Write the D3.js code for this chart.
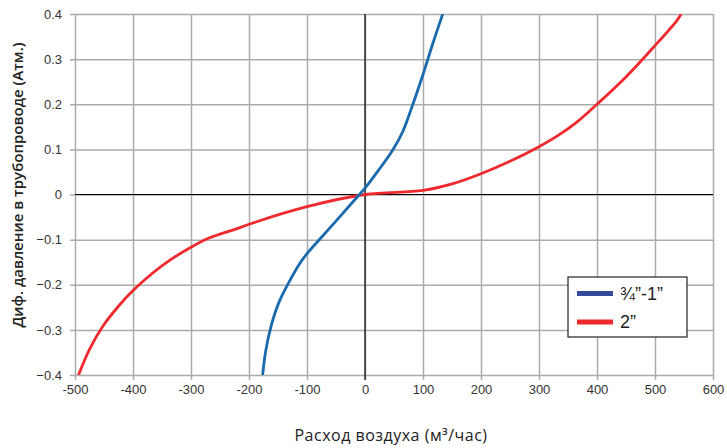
<!DOCTYPE html>
<html>
<head>
<meta charset="utf-8">
<script src="https://cdn.jsdelivr.net/npm/d3@7"></script>
<style>
  html, body { margin: 0; padding: 0; background: #fff; }
  svg { display: block; font-family: "Liberation Sans", Arial, sans-serif; }
</style>
</head>
<body>
<div id="chart"></div>
<script>
// Données
const xTicks = [-500, -400, -300, -200, -100, 0, 100, 200, 300, 400, 500, 600];
const yTicks = [-0.4, -0.3, -0.2, -0.1, 0, 0.1, 0.2, 0.3, 0.4];

const seriesNames = ['¾”-1”', '2”'];

const blueX = [-176.5, -171, -162, -148, -130.5, -113, -100, -73, -44, -20, 0, 24.6, 47.6, 65, 82, 100, 116.5, 134];
const blueY = [-0.4, -0.345, -0.292, -0.238, -0.193, -0.154, -0.131, -0.092, -0.05, -0.015, 0.014, 0.056, 0.098, 0.139, 0.198, 0.266, 0.333, 0.4];

const redX = [-494, -475, -452, -424, -400, -366, -337, -300, -268, -216.7, -200, -100, 0, 100, 151.6, 200, 249, 300, 334.5, 363, 400, 449.5, 500, 538, 545];
const redY = [-0.4, -0.343, -0.292, -0.246, -0.213, -0.174, -0.146, -0.117, -0.096, -0.074, -0.066, -0.027, 0, 0.009, 0.024, 0.046, 0.073, 0.106, 0.132, 0.158, 0.2, 0.26, 0.33, 0.386, 0.4];

const CFG = {
  W: 727, H: 448,
  margin: { top: 14, right: 14, bottom: 73, left: 75 },
  gridColor: '#ababab',
  textColor: '#333',
  blue: '#1a6aad',
  blueLegend: '#34499b',
  red: '#ee2a2e',
};

function drawChart() {
  const { W, H, margin: m, gridColor, textColor } = CFG;
  const w = W - m.left - m.right;
  const h = H - m.top - m.bottom;

  const svg = d3.select('#chart').append('svg').attr('width', W).attr('height', H);
  const g = svg.append('g').attr('transform', `translate(${m.left},${m.top})`);

  const x = d3.scaleLinear().domain([-500, 600]).range([0, w]);
  const y = d3.scaleLinear().domain([-0.4, 0.4]).range([h, 0]);

  // grille verticale + axe X
  g.append('g')
    .attr('transform', `translate(0,${h})`)
    .call(d3.axisBottom(x).tickValues(xTicks).tickSizeInner(-h - 5).tickSizeOuter(0).tickPadding(10)
      .tickFormat(d => d))
    .call(gg => gg.select('.domain').remove())
    .call(gg => gg.selectAll('line').attr('transform', 'translate(0,5)')
      .style('stroke', gridColor).style('stroke-width', 1.5))
    .call(gg => gg.selectAll('text')
      .style('fill', textColor).style('font-size', '13px'));

  // grille horizontale + axe Y
  g.append('g')
    .call(d3.axisLeft(y).tickValues(yTicks).tickSizeInner(-w - 5).tickSizeOuter(0).tickPadding(8)
      .tickFormat(d => d === 0 ? '0' : d3.format('.1f')(d)))
    .call(gg => gg.select('.domain').remove())
    .call(gg => gg.selectAll('line').attr('transform', 'translate(-5,0)')
      .style('stroke', gridColor).style('stroke-width', 1.5))
    .call(gg => gg.selectAll('text').attr('x', -13)
      .style('fill', textColor).style('font-size', '13px'));

  // axes zéro en noir
  g.append('line').attr('x1', 0).attr('x2', w).attr('y1', y(0)).attr('y2', y(0))
    .attr('stroke', '#000').attr('stroke-width', 1.2);
  g.append('line').attr('x1', x(0)).attr('x2', x(0)).attr('y1', 0).attr('y2', h + 5)
    .attr('stroke', '#000').attr('stroke-width', 1.2);

  svg.append('defs').append('clipPath').attr('id', 'clip')
    .append('rect').attr('width', w).attr('height', h);

  const line = d3.line().x(d => x(d[0])).y(d => y(d[1])).curve(d3.curveCatmullRom.alpha(0.5));
  const red = redX.map((v, i) => [v, redY[i]]);
  const blue = blueX.map((v, i) => [v, blueY[i]]);

  g.append('path').datum(red).attr('d', line).attr('fill', 'none')
    .attr('stroke', CFG.red).attr('stroke-width', 2.8).attr('clip-path', 'url(#clip)');
  g.append('path').datum(blue).attr('d', line).attr('fill', 'none')
    .attr('stroke', CFG.blue).attr('stroke-width', 2.8).attr('clip-path', 'url(#clip)');

  // titres
  svg.append('text').attr('x', 391).attr('y', 441).attr('text-anchor', 'middle')
    .style('font-family', '"Open Sans", sans-serif').style('font-size', '16px')
    .style('letter-spacing', '0.5px').style('fill', '#222')
    .text('Расход воздуха (м³/час)');
  svg.append('text').attr('transform', 'translate(23,185) rotate(-90)').attr('text-anchor', 'middle')
    .style('font-family', '"Open Sans", sans-serif').style('font-size', '15px').style('font-weight', 600)
    .style('fill', '#222')
    .text('Диф. давление в трубопроводе (Атм.)');

  // légende
  const lg = svg.append('g').attr('transform', 'translate(568,277)');
  lg.append('rect').attr('width', 119).attr('height', 60)
    .attr('fill', '#fff').attr('stroke', '#222').attr('stroke-width', 1.2);
  const colors = [CFG.blueLegend, CFG.red];
  seriesNames.forEach((name, i) => {
    const yy = 16.5 + i * 28.5;
    lg.append('line').attr('x1', 9).attr('x2', 45).attr('y1', yy).attr('y2', yy)
      .attr('stroke', colors[i]).attr('stroke-width', 5);
    lg.append('text').attr('x', 52).attr('y', yy + 6).style('font-size', '18px').style('fill', '#222')
      .text(name);
  });
}

drawChart();
</script>
</body>
</html>
